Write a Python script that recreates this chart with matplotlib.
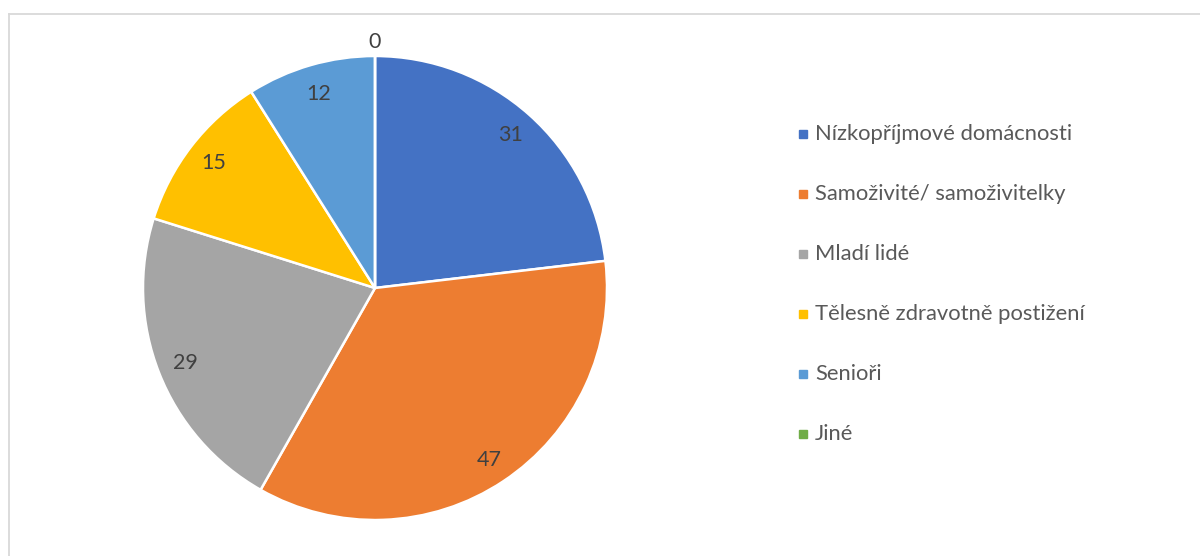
import matplotlib
matplotlib.use("Agg")
import matplotlib.pyplot as plt
from matplotlib.lines import Line2D
import numpy as np

categories = ["Nízkopříjmové domácnosti", "Samoživité/ samoživitelky", "Mladí lidé",
              "Tělesně zdravotně postižení", "Senioři", "Jiné"]
values = [31, 47, 29, 15, 12, 0]
colors = ["#4472C4", "#ED7D31", "#A5A5A5", "#FFC000", "#5B9BD5", "#70AD47"]
label_radius = [0.88, 0.89, 0.88, 0.88, 0.87, 1.06]

plt.rcParams["font.family"] = ["Lato", "DejaVu Sans"]

W, H = 1200, 556
fig = plt.figure(figsize=(W / 100, H / 100), dpi=100)

# chart frame
fig.add_artist(Line2D([8.5 / W, 1.0], [1 - 13.5 / H, 1 - 13.5 / H], color="#D9D9D9", lw=1.3))
fig.add_artist(Line2D([8.5 / W, 8.5 / W], [0, 1 - 13.5 / H], color="#D9D9D9", lw=1.3))

cx, cy, r = 375, 288, 232
ax = fig.add_axes([(cx - r) / W, (H - cy - r) / H, 2 * r / W, 2 * r / H])
wedges, _ = ax.pie(values, colors=colors, startangle=90, counterclock=False,
                   wedgeprops=dict(edgecolor="white", linewidth=1.8))
ax.set_xlim(-1, 1)
ax.set_ylim(-1, 1)
ax.set_aspect("auto")

total = sum(values)
start = 90.0
for v, rad in zip(values, label_radius):
    sweep = 360.0 * v / total
    mid = np.deg2rad(start - sweep / 2)
    ax.text(rad * np.cos(mid), rad * np.sin(mid), str(v), ha="center", va="center",
            fontsize=15.5, color="#404040")
    start -= sweep

# legend
for i, (lab, col) in enumerate(zip(categories, colors)):
    y = 1 - (134 + 60 * i) / H
    fig.add_artist(plt.Rectangle((799 / W, y - 4 / H), 8 / W, 8 / H, color=col,
                                 transform=fig.transFigure))
    fig.text(815 / W, y, lab, ha="left", va="center", fontsize=15.8, color="#595959")

fig.savefig("out.png", dpi=100)
